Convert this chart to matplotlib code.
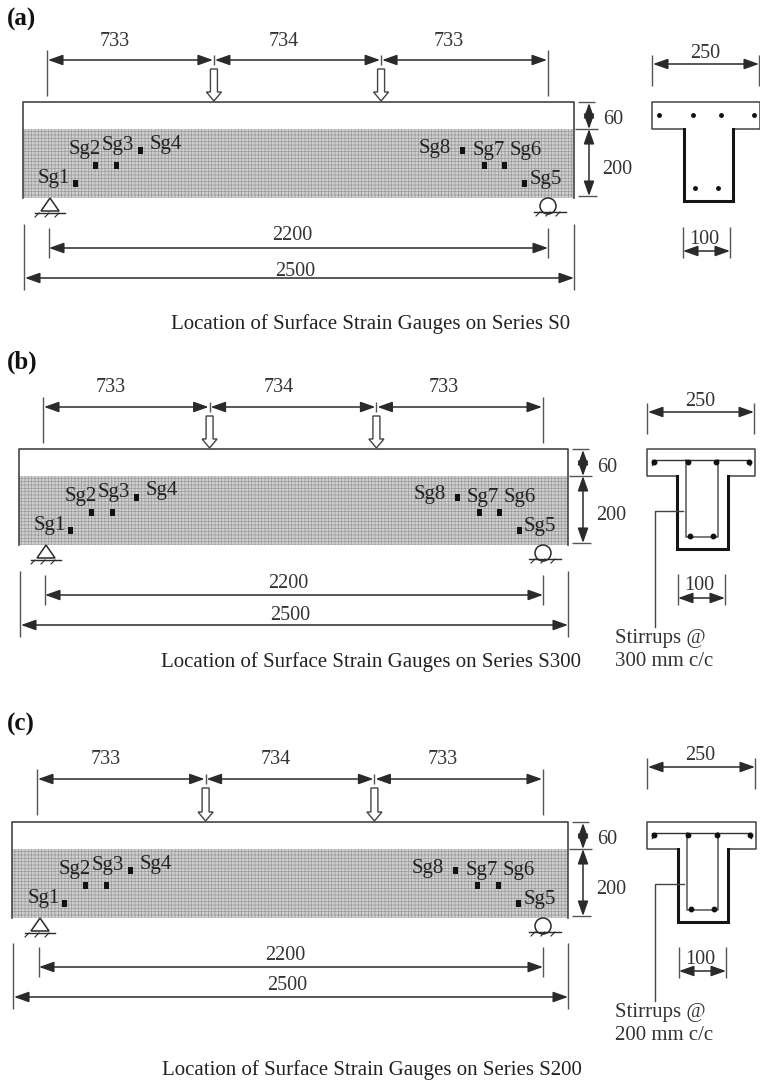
import matplotlib
matplotlib.use('Agg')
import matplotlib.pyplot as plt
import matplotlib.patches as mpatches

plt.rcParams['font.family'] = ['Liberation Serif', 'DejaVu Serif']
plt.rcParams['hatch.linewidth'] = 0.5

# values (mm)
load_spans = [733, 734, 733]
support_span = 2200
beam_length = 2500
flange_depth = 60
web_depth = 200
section_width = 250
web_width = 100

gauge_names = ['Sg1', 'Sg2', 'Sg3', 'Sg4', 'Sg5', 'Sg6', 'Sg7', 'Sg8']
gauge_x = [236, 331, 426, 535, 2277, 2186, 2095, 1996]
gauge_y = [38, 87, 87, 130, 38, 87, 87, 130]

top_bar_x = [16, 95, 160, 236]
bottom_bar_x = [100, 153]
top_bar_depth = 34
bottom_bar_depth = 226

panel_letters = ['(a)', '(b)', '(c)']
captions = ['Location of Surface Strain Gauges on Series S0',
            'Location of Surface Strain Gauges on Series S300',
            'Location of Surface Strain Gauges on Series S200']
stirrup_notes = [None, '300 mm c/c', '200 mm c/c']

INK = '#2a2a2a'
TEXT = '#333333'

# layout of each panel in image pixels
layouts = [
    dict(letter_y=19, left=23, right=574, top=102, sup_l=47, sup_r=548, dim_y=60,
         sec_l=652, sec_r=760, web_l=684, web_r=733, sec_bot=201, width_y=64,
         web_dim_l=683, web_dim_r=730, web_dim_y=251, cap_x=371, cap_y=322,
         dim_x=589, note_y=None, total_off=10),
    dict(letter_y=362, left=19, right=568, top=449, sup_l=43, sup_r=543, dim_y=407,
         sec_l=647, sec_r=755, web_l=677, web_r=728, sec_bot=549, width_y=412,
         web_dim_l=678, web_dim_r=725, web_dim_y=598, cap_x=371, cap_y=660,
         dim_x=583, note_y=638, total_off=13),
    dict(letter_y=724, left=12, right=568, top=822, sup_l=37, sup_r=543, dim_y=779,
         sec_l=647, sec_r=756, web_l=678, web_r=728, sec_bot=922, width_y=767,
         web_dim_l=679, web_dim_r=726, web_dim_y=971, cap_x=372, cap_y=1068,
         dim_x=583, note_y=1012, total_off=14),
]

fig = plt.figure(figsize=(7.6, 10.83), dpi=100)
ax = fig.add_axes([0, 0, 1, 1])
ax.set_xlim(0, 760)
ax.set_ylim(1083, 0)
ax.axis('off')


def dim(x0, y0, x1, y1):
    ax.annotate('', xy=(x1, y1), xytext=(x0, y0),
                arrowprops=dict(arrowstyle='<|-|>,head_length=0.9,head_width=0.32', color=INK,
                                lw=1.1, shrinkA=0, shrinkB=0, mutation_scale=10))


def tick(x0, y0, x1, y1):
    ax.plot([x0, x1], [y0, y1], color='#555555', lw=1.0, solid_capstyle='butt')


def label(x, y, s, size=14.5):
    # va center sits about 3 px high for digits
    ax.text(x, y + 3, s, ha='center', va='center', fontsize=size, color=TEXT)


def draw_panel(i, p):
    ax.text(7, p['letter_y'], panel_letters[i], fontsize=18, fontweight='bold',
            ha='left', va='center', color='#111111')

    left, right, top = p['left'], p['right'], p['top']
    px_per_mm = (right - left) / beam_length
    sup_scale = (p['sup_r'] - p['sup_l']) / support_span
    v_scale = 96 / (flange_depth + web_depth)
    # flange is drawn deeper than its true scale in the original
    shade_y = top + flange_depth * v_scale * 1.22
    bottom = top + (flange_depth + web_depth) * v_scale

    # beam with the gauge mesh on the web
    ax.add_patch(mpatches.Rectangle((left, shade_y), right - left, bottom - shade_y,
                                    fc='#cfcfcf', ec='#9a9a9a', hatch='+++++', lw=0))
    ax.plot([left, left, right, right], [bottom, top, top, bottom], color='#444444', lw=1.2)

    # span dimensions over the beam
    xs = [p['sup_l']]
    for s in load_spans:
        xs.append(xs[-1] + s * sup_scale)
    for k, s in enumerate(load_spans):
        dim(xs[k] + 1, p['dim_y'], xs[k + 1] - 1, p['dim_y'])
        label((xs[k] + xs[k + 1]) / 2 - 16 + (2 if k == 1 else 0), p['dim_y'] - 22, str(s))
    tick(xs[0], p['dim_y'] - 10, xs[0], p['dim_y'] + 36)
    tick(xs[3], p['dim_y'] - 10, xs[3], p['dim_y'] + 36)
    for x in xs[1:3]:
        tick(x, p['dim_y'] - 5, x, p['dim_y'] + 5)
        ax.add_patch(mpatches.FancyArrow(x, p['dim_y'] + 9, 0, top - p['dim_y'] - 10, width=7,
                                         head_width=15, head_length=9, length_includes_head=True,
                                         fc='white', ec='#444444', lw=1.0, zorder=3))

    # pin and roller supports
    sx = p['sup_l'] + 3
    ax.add_patch(mpatches.Polygon([(sx, bottom), (sx - 9, bottom + 13), (sx + 9, bottom + 13)],
                                  closed=True, fc='white', ec=INK, lw=1.1))
    ax.plot([sx - 15, sx + 15], [bottom + 15, bottom + 15], color=INK, lw=1.0)
    rx = p['sup_r']
    ax.add_patch(mpatches.Ellipse((rx, bottom + 8), 16, 16, fc='white', ec=INK, lw=1.1))
    ax.plot([rx - 14, rx + 18], [bottom + 14, bottom + 14], color=INK, lw=1.0)
    for off in (-15, -5, 5):
        ax.plot([sx + off, sx + off + 4], [bottom + 19, bottom + 15], color=INK, lw=0.8)
        ax.plot([rx + off + 3, rx + off + 7], [bottom + 18, bottom + 14], color=INK, lw=0.8)

    # overall dimensions under the beam
    y22 = p['dim_y'] + 188
    y25 = p['dim_y'] + 218
    dim(p['sup_l'] + 2, y22, p['sup_r'], y22)
    tick(p['sup_l'] + 2, y22 - 20, p['sup_l'] + 2, y22 + 10)
    tick(p['sup_r'], y22 - 20, p['sup_r'], y22 + 10)
    label((p['sup_l'] + p['sup_r']) / 2 - 5, y22 - 15, str(support_span))
    dim(left + 2, y25, right, y25)
    tick(left + 1, y25 - 54, left + 1, y25 + 12)
    tick(right, y25 - 54, right, y25 + 12)
    label((left + right) / 2 - 3, y25 - p['total_off'], str(beam_length))

    # depth dimensions at the beam end
    dx = p['dim_x']
    dim(dx, top + 1, dx, shade_y)
    dim(dx, shade_y, dx, bottom - 2)
    for y, x0, x1 in [(top, dx - 11, dx + 6), (shade_y, dx - 14, dx + 9), (bottom - 2, dx - 11, dx + 8)]:
        tick(x0, y, x1, y)
    label(dx + 24, top + 15, str(flange_depth))
    label(dx + 28, top + 64, str(web_depth))

    # strain gauges
    text_off = {'Sg1': (-21, -5), 'Sg2': (-11, -16), 'Sg3': (1, -20), 'Sg4': (25, -6),
                'Sg5': (21, -4), 'Sg6': (21, -15), 'Sg7': (4, -15), 'Sg8': (-28, -2)}
    for name, gx, gy in zip(gauge_names, gauge_x, gauge_y):
        x = left + gx * px_per_mm
        y = bottom - gy * v_scale
        ax.add_patch(mpatches.Rectangle((x - 2.5, y - 3.5), 5, 7, fc='#111111', ec='none', zorder=4))
        ox, oy = text_off[name]
        ax.text(x + ox, y + oy, name, ha='center', va='center', fontsize=15, color='#222222', zorder=5)

    # T section
    sl, sr, wl, wr = p['sec_l'], p['sec_r'], p['web_l'], p['web_r']
    sb = p['sec_bot']
    s_scale = (sr - sl) / section_width
    d_scale = (sb - top) / (flange_depth + web_depth)
    fb = top + flange_depth * d_scale * 1.16
    ax.plot([wl, sl, sl, sr, sr, wr], [fb, fb, top, top, fb, fb], color='#444444', lw=1.1)
    ax.plot([wl, wl, wr, wr], [fb, sb, sb, fb], color='#151515', lw=2.2, solid_joinstyle='miter')

    dim(sl + 1, p['width_y'], sr - 1, p['width_y'])
    tick(sl, p['width_y'] - 9, sl, p['width_y'] + 22)
    tick(sr - 1, p['width_y'] - 9, sr - 1, p['width_y'] + 22)
    label((sl + sr) / 2 - 1, p['width_y'] - 14, str(section_width))

    wy = p['web_dim_y']
    dim(p['web_dim_l'], wy, p['web_dim_r'], wy)
    tick(p['web_dim_l'], wy - 24, p['web_dim_l'], wy + 7)
    tick(p['web_dim_r'], wy - 24, p['web_dim_r'], wy + 7)
    label((p['web_dim_l'] + p['web_dim_r']) / 2 - 2, wy - 15, str(web_width))

    bar_y = top + top_bar_depth * d_scale
    low_y = top + bottom_bar_depth * d_scale
    size = 2.5 if i == 0 else 3.2
    ax.plot([sl + b * s_scale for b in top_bar_x], [bar_y] * 4, 'o', color='#111111', ms=size, ls='none', zorder=5)
    ax.plot([sl + b * s_scale for b in bottom_bar_x], [low_y] * 2, 'o', color='#111111', ms=size, ls='none', zorder=5)

    # shear links and the note for them
    if stirrup_notes[i]:
        il, ir = wl + 9, wr - 10
        ax.plot([il, il, ir, ir], [top + 11, sb - 12, sb - 12, top + 11], color='#555555', lw=1.1)
        ax.plot([sl + 5, sl + 5, sr - 5, sr - 5], [bar_y + 3, bar_y - 2, bar_y - 2, bar_y + 3], color='#333333', lw=1.0)
        ny = p['note_y']
        ly = top + 0.62 * (sb - top)
        ax.plot([wl + 6, 655, 655], [ly, ly, ny - 11], color='#444444', lw=1.0)
        ax.text(615, ny, 'Stirrups @', ha='left', va='center', fontsize=15, color=TEXT)
        ax.text(615, ny + 24, stirrup_notes[i], ha='left', va='center', fontsize=15, color=TEXT)

    ax.text(p['cap_x'], p['cap_y'] + 2, captions[i], ha='center', va='center', fontsize=15, color='#222222')


for i, p in enumerate(layouts):
    draw_panel(i, p)

fig.savefig('out.png', dpi=100)
